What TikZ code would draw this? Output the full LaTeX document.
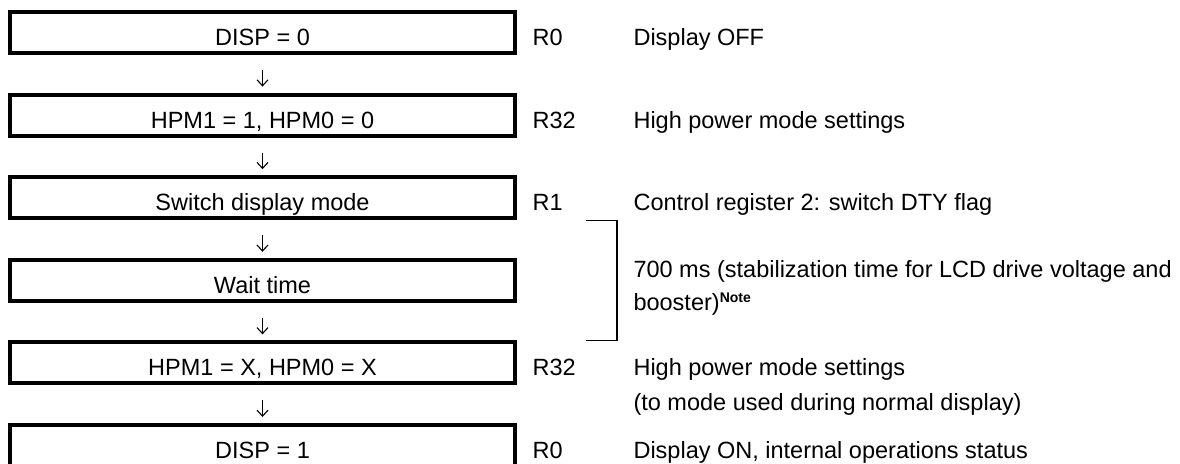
\documentclass[tikz,border=0pt]{standalone}
\usepackage{fontspec}
\setmainfont{Liberation Sans}
\usetikzlibrary{arrows.meta}

\begin{document}
\begin{tikzpicture}[x=1pt,y=-1pt,font=\fontsize{23.5}{28}\selectfont] %1 unidade = 1 pixel, eixo y para baixo

\tikzset{
  caixa/.style={draw,line width=4pt,minimum width=505pt,minimum height=41pt,inner sep=1pt,text height=28pt,text depth=2pt}, %caixa do passo, texto mais baixo
  seta/.style={line width=1.1pt,-{Straight Barb[length=6pt,width=11pt]},shorten <=15pt,shorten >=6pt}, %seta entre passos
  reg/.style={anchor=base west}, %nome do registrador
  desc/.style={anchor=base west} %texto da descricao
}

\useasboundingbox (0,0) rectangle (1180,463);

%----------------------------------------------------
%Desenhar os passos
%----------------------------------------------------
\node[caixa] (P1) at (262.5,32.5) {DISP = 0};
\node[caixa] (P2) at (262.5,115.1) {HPM1 = 1, HPM0 = 0};
\node[caixa] (P3) at (262.5,197.7) {Switch display mode};
\node[caixa] (P4) at (262.5,280.3) {Wait time};
\node[caixa] (P5) at (262.5,362.9) {HPM1 = X, HPM0 = X};
\node[caixa] (P6) at (262.5,445.5) {DISP = 1}; %a borda de baixo fica fora da figura

%----------------------------------------------------
%Setas entre os passos
%----------------------------------------------------
\draw[seta] (P1) -- (P2);
\draw[seta] (P2) -- (P3);
\draw[seta] (P3) -- (P4);
\draw[seta] (P4) -- (P5);
\draw[seta] (P5) -- (P6);

%----------------------------------------------------
%Registradores e descricoes
%----------------------------------------------------
\node[reg] (R1) at (529,45.5) {R0};
\node[desc] (D1) at (630,45.5) {Display OFF};
\node[reg] (R2) at (529,128.1) {R32};
\node[desc] (D2) at (630,128.1) {High power mode settings};
\node[reg] (R3) at (529,210.7) {R1};
\node[desc] (D3) at (630,210.7) {Control register 2: switch DTY flag};
\node[desc] (D4a) at (630,277) {700 ms (stabilization time for LCD drive voltage and};
\node[desc] (D4b) at (630,310) {booster)\raisebox{8pt}{\fontsize{14}{16}\selectfont\bfseries Note}};
\node[reg] (R5) at (529,375.9) {R32};
\node[desc] (D5a) at (630,375.9) {High power mode settings};
\node[desc] (D5b) at (630,410) {(to mode used during normal display)};
\node[reg] (R6) at (529,458) {R0};
\node[desc] (D6) at (630,458) {Display ON, internal operations status};

%colchete do tempo de espera
\draw[line width=1.3pt] (586,0 |- P3.south) -| (617,0 |- P5.north) -- (586,0 |- P5.north);

\end{tikzpicture}
\end{document}
